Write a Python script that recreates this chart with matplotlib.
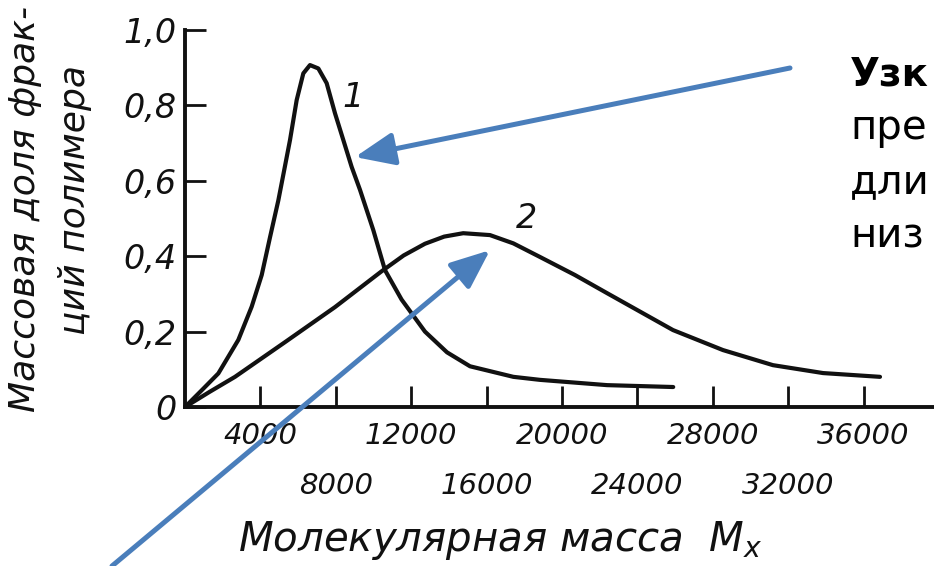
import matplotlib
matplotlib.use("Agg")
import matplotlib.pyplot as plt

# ---- data ----
curve1_x = [0, 900, 1768, 2829, 3537, 4069, 4509, 4951, 5250, 5570, 5924, 6277, 6630,
            7073, 7515, 7958, 8400, 8840, 9284, 9991, 10610, 11490, 12730, 13900,
            15120, 17420, 18830, 22390, 25900]
curve1_y = [0, 0.045, 0.089, 0.178, 0.266, 0.350, 0.450, 0.548, 0.625, 0.708, 0.814, 0.885, 0.907,
            0.898, 0.859, 0.779, 0.708, 0.637, 0.576, 0.469, 0.363, 0.285, 0.200, 0.145,
            0.108, 0.080, 0.072, 0.058, 0.053]

curve2_x = [0, 1300, 2653, 5305, 7958, 10430, 11600, 12730, 13750, 14760, 16180,
            17420, 18830, 20690, 22390, 25890, 28540, 31190, 33850, 36870]
curve2_y = [0, 0.040, 0.080, 0.172, 0.265, 0.360, 0.402, 0.433, 0.452, 0.461, 0.456,
            0.434, 0.398, 0.350, 0.302, 0.204, 0.151, 0.111, 0.090, 0.080]

y_ticks = [0, 0.2, 0.4, 0.6, 0.8, 1.0]
y_tick_labels = ["0", "0,2", "0,4", "0,6", "0,8", "1,0"]
x_ticks = [4000, 8000, 12000, 16000, 20000, 24000, 28000, 32000, 36000]
x_tick_labels = ["4000", "8000", "12000", "16000", "20000", "24000", "28000", "32000", "36000"]

ylabel_line1 = "Массовая доля фрак-"
ylabel_line2 = "ций полимера"
xlabel = "Молекулярная масса  $M_x$"
side_lines = ["Узк", "пре", "дли", "низ"]

plt.rcParams['font.family'] = ['DejaVu Sans']
plt.rcParams['mathtext.fontset'] = 'dejavusans'

W, H = 934, 566
fig = plt.figure(figsize=(W / 100, H / 100), dpi=100)
fig.patch.set_facecolor("white")

x0, y0, ytop = 185, 407, 30
px_per_4000 = 75.4
ax = fig.add_axes([x0 / W, (H - y0) / H, (W - x0) / W, (y0 - ytop) / H])
ax.set_xlim(0, 4000 * (W - x0) / px_per_4000)
ax.set_ylim(0, 1.0)
for s in ("top", "right"):
    ax.spines[s].set_visible(False)
for s in ("left", "bottom"):
    ax.spines[s].set_linewidth(2.8)
    ax.spines[s].set_color("#111111")

ink = "#111111"
ax.plot(curve1_x, curve1_y, color=ink, lw=3.0, solid_capstyle="round", solid_joinstyle="round")
ax.plot(curve2_x, curve2_y, color=ink, lw=3.0, solid_capstyle="round", solid_joinstyle="round")

ax.set_yticks(y_ticks, y_tick_labels)
ax.set_xticks(x_ticks, x_tick_labels)
ax.tick_params(axis="both", direction="in", length=15, width=2.0, color=ink)
ax.tick_params(axis="y", labelsize=24, pad=6)
ax.tick_params(axis="x", labelsize=21)
for lab in ax.get_yticklabels() + ax.get_xticklabels():
    lab.set_fontstyle("italic")
    lab.set_color(ink)
for i, t in enumerate(ax.xaxis.get_major_ticks()):
    t.set_pad(11 if i % 2 == 0 else 47)

# curve numbers
ax.text(8900, 0.82, "1", fontsize=24, fontstyle="italic", color=ink, ha="center", va="center")
ax.text(18140, 0.50, "2", fontsize=24, fontstyle="italic", color=ink, ha="center", va="center")

# axis titles
fig.text(25 / W, 1 - 412 / H, ylabel_line1, rotation=90, fontsize=26, fontstyle="italic",
         color=ink, ha="center", va="bottom")
fig.text(75 / W, 1 - 335 / H, ylabel_line2, rotation=90, fontsize=26, fontstyle="italic",
         color=ink, ha="center", va="bottom")
fig.text(500 / W, 1 - 540 / H, xlabel, fontsize=29, fontstyle="italic", color=ink,
         ha="center", va="center")

# slide text on the right
baselines = [86, 139, 193, 247]
for i, (txt, b) in enumerate(zip(side_lines, baselines)):
    fig.text(850 / W, 1 - b / H, txt, fontsize=28 if i == 0 else 29,
             fontweight="bold" if i == 0 else "normal",
             color="black", ha="left", va="baseline")

# blue arrows
blue = "#4A7EBB"
aprops = dict(arrowstyle="-|>,head_length=1.2,head_width=0.5",
              color=blue, lw=3.6, mutation_scale=20, shrinkA=0, shrinkB=0)
ax.annotate("", xy=(9020, 0.663), xycoords="data",
            xytext=(790 / W, 1 - 68 / H), textcoords="figure fraction",
            arrowprops=aprops, annotation_clip=False)
ax.annotate("", xy=(16180, 0.416), xycoords="data",
            xytext=(112 / W, 0.0), textcoords="figure fraction",
            arrowprops=aprops, annotation_clip=False)

fig.savefig("out.png", dpi=100, facecolor="white")
